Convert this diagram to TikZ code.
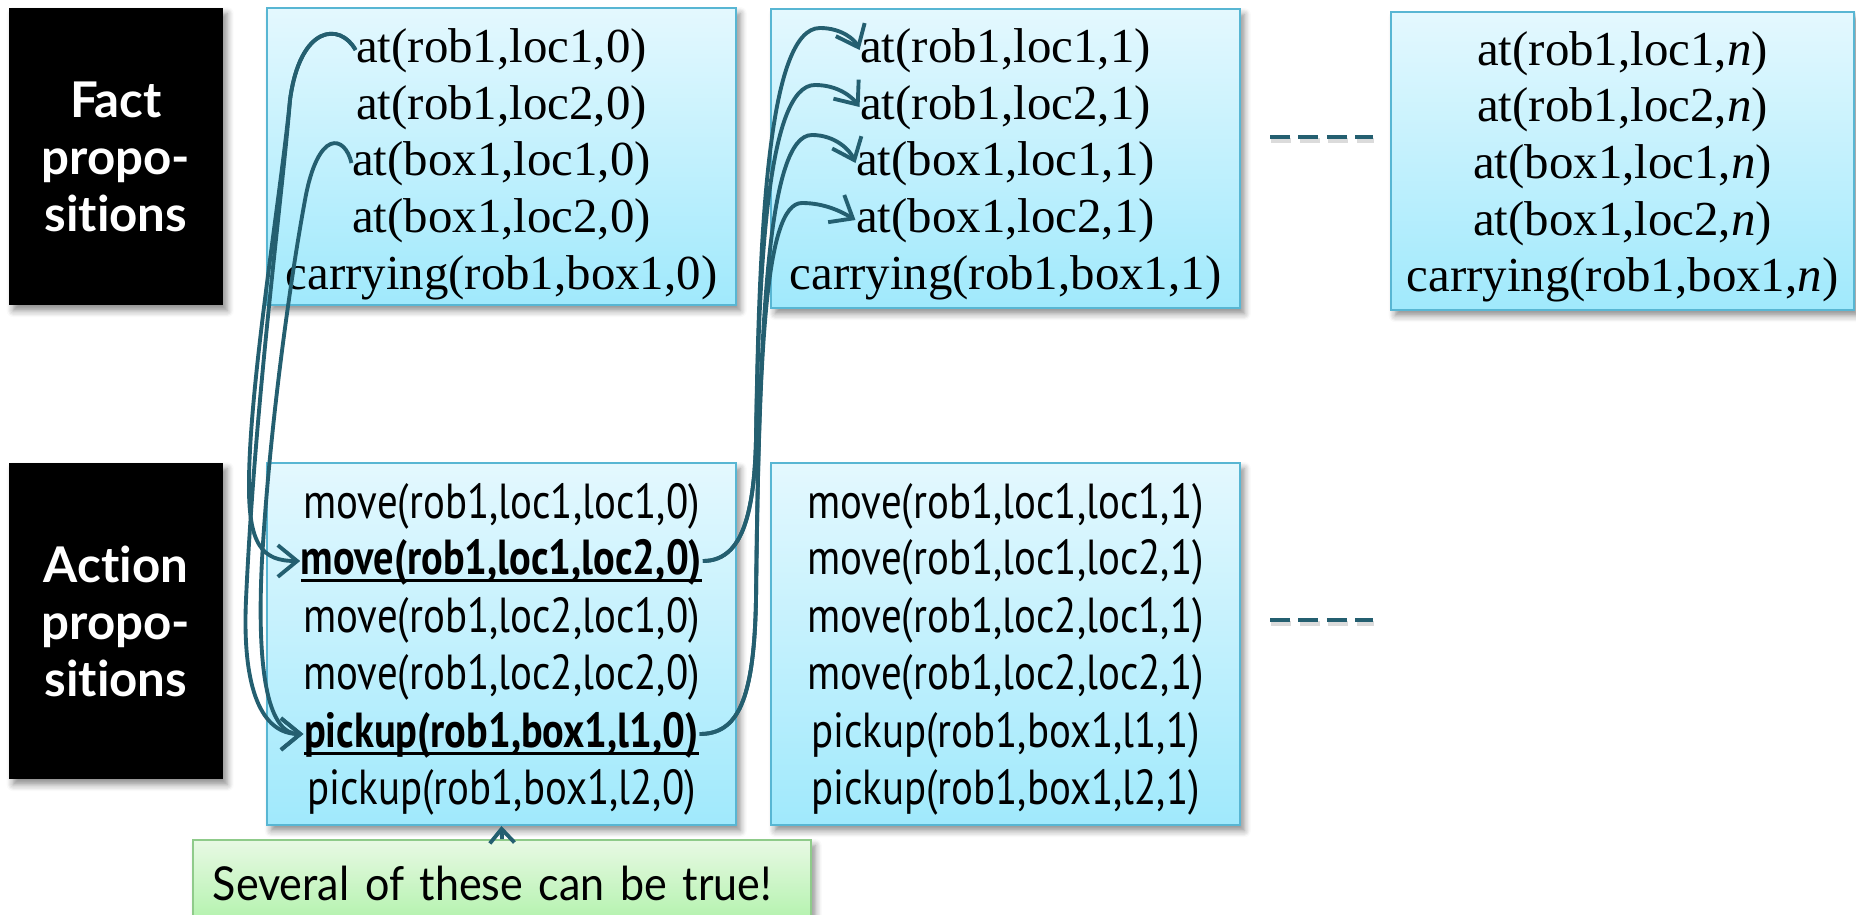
\documentclass[tikz,border=0pt]{standalone}
\usepackage{fontspec}
\setmainfont{Liberation Serif}
\newfontfamily\headfont[Ligatures=NoCommon]{Lato}
\newfontfamily\notefont[FakeStretch=0.92]{Lato}
\newfontfamily\actfont[FakeStretch=0.83,BoldFeatures={FakeStretch=0.82}]{PT Sans}
\usetikzlibrary{arrows.meta,shadows.blur}

% bold action name with a close underline that the parentheses cross
\newcommand\chosenact[1]{\setbox0\hbox{\bfseries #1}%
  \rlap{\rule[-2.1pt]{\wd0}{0.85pt}}\box0}

\definecolor{boxtop}{RGB}{228,248,254}
\definecolor{boxbot}{RGB}{160,233,252}
\definecolor{boxline}{RGB}{88,182,211}
\definecolor{notetop}{RGB}{232,249,228}
\definecolor{notebot}{RGB}{176,242,170}
\definecolor{noteline}{RGB}{143,203,138}
\definecolor{link}{RGB}{36,95,112}

\tikzset{
  softshadow/.style={blur shadow={shadow xshift=1.2pt, shadow yshift=-1.6pt,
      shadow blur steps=6, shadow opacity=45}},
  propbox/.style={draw=boxline, line width=0.5pt, top color=boxtop, bottom color=boxbot,
      softshadow, minimum width=4.69cm, inner sep=0pt},
  headbox/.style={fill=black, text=white, softshadow, minimum width=2.14cm, inner sep=0pt,
      align=center, font=\headfont\bfseries\fontsize{14}{16.2}\selectfont},
  notebox/.style={draw=noteline, line width=0.5pt, top color=notetop, bottom color=notebot,
      softshadow, minimum width=6.18cm, minimum height=0.86cm, inner xsep=0.2cm,
      text width=5.78cm, align=left, font=\notefont\fontsize{13.3}{16}\selectfont},
  factline/.style={inner sep=0pt, text height=10.4pt, text depth=3.1pt,
      font=\fontsize{13.9}{16}\selectfont},
  actline/.style={inner sep=0pt, text height=10.5pt, text depth=3pt,
      font=\actfont\fontsize{14}{16}\selectfont},
  link/.style={draw=link, line width=1.1pt, -{Straight Barb[length=5.5pt,width=9pt]}},
  dashline/.style={draw=link, line width=1.3pt, dash pattern=on 5.6pt off 2.5pt},
}

\begin{document}
\begin{tikzpicture}[x=0.01cm, y=-0.01cm]
\clip (0,0) rectangle (1856,915);

% row headings
\node[headbox, minimum height=2.97cm] (facthead) at (116,156.5) {Fact\\propo-\\sitions};
\node[headbox, minimum height=3.16cm] (acthead) at (116,621) {Action\\propo-\\sitions};

% proposition boxes
\node[propbox, minimum height=2.97cm] (f0box) at (501.5,156.5) {};
\node[propbox, minimum height=2.99cm] (f1box) at (1005.5,158.5) {};
\node[propbox, minimum width=4.63cm, minimum height=2.98cm] (fnbox) at (1622.5,161) {};
\node[propbox, minimum height=3.62cm] (a0box) at (501.5,644) {};
\node[propbox, minimum height=3.62cm] (a1box) at (1005.5,644) {};

% fact propositions, step 0
\node[factline] (f0a) at (501.5,50)  {at(rob1,loc1,0)};
\node[factline] (f0b) at (501.5,107) {at(rob1,loc2,0)};
\node[factline] (f0c) at (501.5,163) {at(box1,loc1,0)};
\node[factline] (f0d) at (501.5,220) {at(box1,loc2,0)};
\node[factline] (f0e) at (501.5,277) {carrying(rob1,box1,0)};

% fact propositions, step 1
\node[factline] (f1a) at (1005.5,50)  {at(rob1,loc1,1)};
\node[factline] (f1b) at (1005.5,107) {at(rob1,loc2,1)};
\node[factline] (f1c) at (1005.5,163) {at(box1,loc1,1)};
\node[factline] (f1d) at (1005.5,220) {at(box1,loc2,1)};
\node[factline] (f1e) at (1005.5,277) {carrying(rob1,box1,1)};

% fact propositions, step n
\node[factline] (fna) at (1622.5,53)  {at(rob1,loc1,\textit{n})};
\node[factline] (fnb) at (1622.5,109) {at(rob1,loc2,\textit{n})};
\node[factline] (fnc) at (1622.5,166) {at(box1,loc1,\textit{n})};
\node[factline] (fnd) at (1622.5,223) {at(box1,loc2,\textit{n})};
\node[factline] (fne) at (1622.5,279) {carrying(rob1,box1,\textit{n})};

% action propositions, step 0
\node[actline] (a0a) at (501.5,505) {move(rob1,loc1,loc1,0)};
\node[actline] (a0b) at (501.5,561) {\chosenact{move(rob1,loc1,loc2,0)}};
\node[actline] (a0c) at (501.5,619) {move(rob1,loc2,loc1,0)};
\node[actline] (a0d) at (501.5,676) {move(rob1,loc2,loc2,0)};
\node[actline] (a0e) at (501.5,734) {\chosenact{pickup(rob1,box1,l1,0)}};
\node[actline] (a0f) at (501.5,791) {pickup(rob1,box1,l2,0)};

% action propositions, step 1
\node[actline] (a1a) at (1005.5,505) {move(rob1,loc1,loc1,1)};
\node[actline] (a1b) at (1005.5,561) {move(rob1,loc1,loc2,1)};
\node[actline] (a1c) at (1005.5,619) {move(rob1,loc2,loc1,1)};
\node[actline] (a1d) at (1005.5,676) {move(rob1,loc2,loc2,1)};
\node[actline] (a1e) at (1005.5,734) {pickup(rob1,box1,l1,1)};
\node[actline] (a1f) at (1005.5,791) {pickup(rob1,box1,l2,1)};

% continuation dashes
\coordinate (d1s) at (1270,137);
\coordinate (d1e) at (1373,137);
\coordinate (d2s) at (1270,620);
\coordinate (d2e) at (1373,620);
\draw[dashline, draw=black!35, opacity=0.4, transform canvas={xshift=0.4pt, yshift=-1pt}] (d1s) -- (d1e);
\draw[dashline, draw=black!35, opacity=0.4, transform canvas={xshift=0.4pt, yshift=-1pt}] (d2s) -- (d2e);
\draw[dashline] (d1s) -- (d1e);
\draw[dashline] (d2s) -- (d2e);

% preconditions: facts at step 0 feed the actions at step 0
\draw[link] (f0a.west) .. controls (340,22) and (300,25) .. (290,100)
   .. controls (280,200) and (250,380) .. (249,480)
   .. controls (248,545) and (262,561) .. (a0b.west);
\draw[link] (f0a.west) .. controls (340,22) and (300,25) .. (290,100)
   .. controls (283,190) and (255,400) .. (246,600)
   .. controls (242,690) and (262,734) .. (a0e.west);
\draw[link] (f0c.west) .. controls (345,135) and (318,128) .. (305,200)
   .. controls (292,270) and (270,420) .. (262,560)
   .. controls (256,680) and (270,734) .. (a0e.west);

% effects: actions at step 0 produce facts at step 1
\draw[link] (a0b.east) .. controls (740,561) and (754,520) .. (756,440)
   .. controls (759,230) and (768,28) .. (820,28)
   .. controls (842,28) and (855,40) .. (f1a.west);
\draw[link] (a0b.east) .. controls (740,561) and (754,520) .. (756,440)
   .. controls (759,260) and (768,85) .. (815,85)
   .. controls (838,85) and (852,97) .. (f1b.west);
\draw[link] (a0e.east) .. controls (738,734) and (754,700) .. (756,600)
   .. controls (759,320) and (768,135) .. (812,135)
   .. controls (835,135) and (850,150) .. (f1c.west);
\draw[link] (a0e.east) .. controls (738,734) and (754,700) .. (756,600)
   .. controls (759,360) and (764,203) .. (802,203)
   .. controls (825,203) and (842,212) .. (f1d.west);

% remark below the step-0 actions
\node[notebox] (note) at (502,883) {Several of these can be true!};
\draw[link, -{Straight Barb[length=4pt,width=7pt]}] (note.north) -- (a0box.south);
\end{tikzpicture}
\end{document}
